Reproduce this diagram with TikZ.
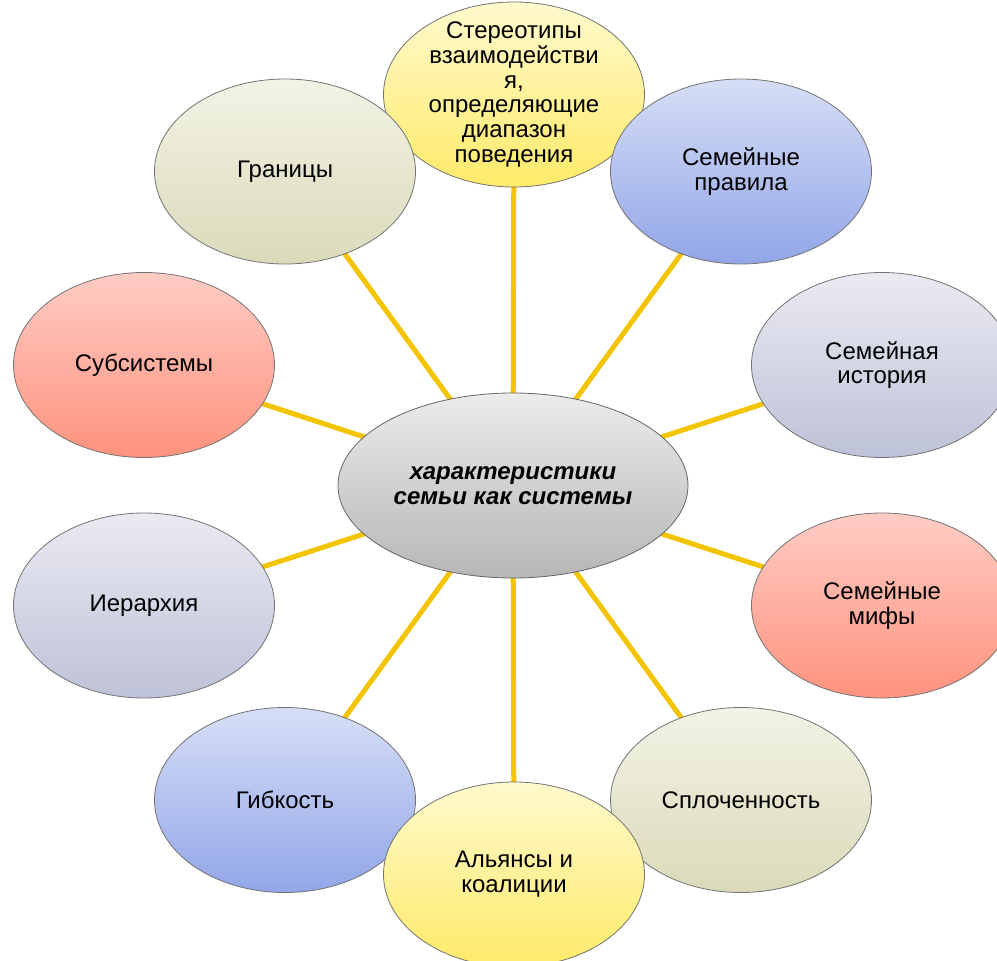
\documentclass[tikz,border=0pt]{standalone}
\usepackage{fontspec}
\setmainfont{Liberation Sans}
\usetikzlibrary{shapes.geometric,backgrounds}
\definecolor{lineyel}{RGB}{245,196,0}
\definecolor{yelT}{RGB}{255,250,205}
\definecolor{yelB}{RGB}{255,234,105}
\definecolor{bluT}{RGB}{214,222,246}
\definecolor{bluB}{RGB}{146,166,232}
\definecolor{redT}{RGB}{255,204,196}
\definecolor{redB}{RGB}{255,146,126}
\definecolor{lavT}{RGB}{234,234,242}
\definecolor{lavB}{RGB}{190,194,216}
\definecolor{begT}{RGB}{243,243,230}
\definecolor{begB}{RGB}{218,218,186}
\definecolor{gryT}{RGB}{236,236,236}
\definecolor{gryB}{RGB}{182,182,182}
\begin{document}
\begin{tikzpicture}[x=1pt,y=-1pt,
  sat/.style={ellipse, draw=black!55, line width=0.8pt, minimum width=261pt, minimum height=185pt, inner sep=0pt},
  yel/.style={sat, top color=yelT, bottom color=yelB},
  blu/.style={sat, top color=bluT, bottom color=bluB},
  red/.style={sat, top color=redT, bottom color=redB},
  lav/.style={sat, top color=lavT, bottom color=lavB},
  beg/.style={sat, top color=begT, bottom color=begB},
  ctr/.style={ellipse, draw=black!60, line width=0.8pt, minimum width=350pt, minimum height=185pt, inner sep=0pt, top color=gryT, bottom color=gryB},
  txt/.style={align=center, font=\fontsize{24}{24.8}\selectfont, text=black, inner sep=0pt},
  conn/.style={draw=lineyel, line width=5pt}]
\clip (0,0) rectangle (997,961);
\node[yel] (t) at (514,94.5) {};
\node[beg] (g) at (285,171.5) {};
\node[blu] (p) at (741,171.5) {};
\node[lav] (h) at (882,365) {};
\node[red] (s) at (144,365) {};
\node[lav] (i) at (144,605.5) {};
\node[red] (m) at (882,605.5) {};
\node[blu] (f) at (285,800) {};
\node[beg] (sp) at (741,800) {};
\node[ctr] (c) at (513,485.5) {};
\node[yel] (a) at (514,874.5) {};
\begin{scope}[on background layer]
\fill[white] (0,0) rectangle (997,961);
\foreach \n in {t,g,p,h,s,i,m,f,sp,a}{\path[conn] (c.center) -- (\n.center);}
\end{scope}
\node[txt] (tt) at (t.center) {Стереотипы\\взаимодействи\\я,\\определяющие\\диапазон\\поведения};
\node[txt] (gt) at (g.center) {Границы};
\node[txt] (pt) at (p.center) {Семейные\\правила};
\node[txt] (ht) at (h.center) {Семейная\\история};
\node[txt] (st) at (s.center) {Субсистемы};
\node[txt] (it) at (i.center) {Иерархия};
\node[txt] (mt) at (m.center) {Семейные\\мифы};
\node[txt] (ft) at (f.center) {Гибкость};
\node[txt] (spt) at (sp.center) {Сплоченность};
\node[txt, font=\fontsize{24}{25}\selectfont\bfseries\itshape] (ct) at (c.center) {характеристики\\семьи как системы};
\node[txt] (at) at (a.center) {Альянсы и\\коалиции};
\end{tikzpicture}
\end{document}
